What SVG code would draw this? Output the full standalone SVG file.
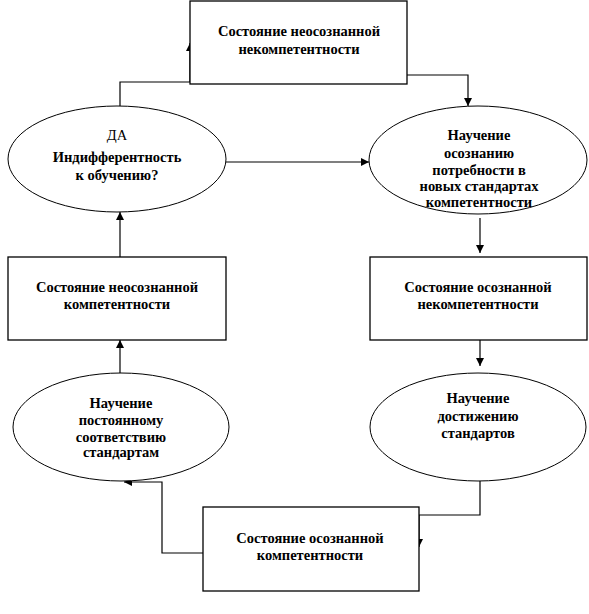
<svg xmlns="http://www.w3.org/2000/svg" width="589" height="614" viewBox="0 0 589 614">
<style>
.box{fill:#fff;stroke:#000;stroke-width:1.3}
.ell{fill:#fff;stroke:#000;stroke-width:1}
.t{font-family:"Liberation Serif","Times New Roman",serif;font-size:14.5px;font-weight:bold;text-anchor:middle;fill:#000}
.n{font-weight:normal}
.c{fill:none;stroke:#000;stroke-width:1.2}
</style>
<defs>
<marker id="ah" markerWidth="10" markerHeight="10" refX="8" refY="4" orient="auto" markerUnits="userSpaceOnUse">
<path d="M0,0 L8,4 L0,8 Z" fill="#000"/>
</marker>
</defs>
<rect width="589" height="614" fill="#fff"/>
<g id="connectors">
<path class="c" d="M120,106 V82 H190 V43" marker-end="url(#ah)"/>
<path class="c" d="M407,75 H468 V106" marker-end="url(#ah)"/>
<path class="c" d="M226,162 H369" marker-end="url(#ah)"/>
<path class="c" d="M480,218 V253" marker-end="url(#ah)"/>
<path class="c" d="M480,340 V366" marker-end="url(#ah)"/>
<path class="c" d="M480,481 V515 H419 V547" marker-end="url(#ah)"/>
<path class="c" d="M203,553 H162 V482 H124" marker-end="url(#ah)"/>
<path class="c" d="M120,375 V340" marker-end="url(#ah)"/>
<path class="c" d="M120,257 V212" marker-end="url(#ah)"/>
</g>
<g id="n1">
<rect class="box" x="190" y="1" width="217" height="83"/>
<text class="t" x="299" y="36">Состояние неосознанной</text>
<text class="t" x="299" y="54">некомпетентности</text>
</g>
<g id="n2">
<ellipse class="ell" cx="117" cy="159" rx="109" ry="53"/>
<text class="t n" x="117" y="140">ДА</text>
<text class="t" x="117" y="162">Индифферентность</text>
<text class="t" x="117" y="180">к обучению?</text>
</g>
<g id="n3">
<ellipse class="ell" cx="478" cy="160" rx="109" ry="54"/>
<text class="t" x="479" y="140">Научение</text>
<text class="t" x="479" y="158">осознанию</text>
<text class="t" x="479" y="175">потребности в</text>
<text class="t" x="479" y="191">новых стандартах</text>
<text class="t" x="479" y="207">компетентности</text>
</g>
<g id="n4">
<rect class="box" x="8" y="257" width="218" height="83"/>
<text class="t" x="117" y="292">Состояние неосознанной</text>
<text class="t" x="117" y="309">компетентности</text>
</g>
<g id="n5">
<rect class="box" x="370" y="257" width="217" height="83"/>
<text class="t" x="478" y="292">Состояние осознанной</text>
<text class="t" x="478" y="309">некомпетентности</text>
</g>
<g id="n6">
<ellipse class="ell" cx="121" cy="427" rx="108" ry="54"/>
<text class="t" x="121" y="408">Научение</text>
<text class="t" x="121" y="425">постоянному</text>
<text class="t" x="121" y="442">соответствию</text>
<text class="t" x="121" y="457">стандартам</text>
</g>
<g id="n7">
<ellipse class="ell" cx="478" cy="427" rx="108" ry="54"/>
<text class="t" x="478" y="403">Научение</text>
<text class="t" x="478" y="421">достижению</text>
<text class="t" x="478" y="438">стандартов</text>
</g>
<g id="n8">
<rect class="box" x="203" y="507" width="216" height="84"/>
<text class="t" x="310" y="543">Состояние осознанной</text>
<text class="t" x="310" y="560">компетентности</text>
</g>
</svg>
